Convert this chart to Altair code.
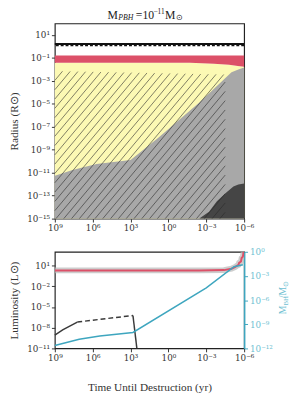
import altair as alt
import pandas as pd
import numpy as np

FONT = "Liberation Serif"
LFONT = "DejaVu Serif"
TEAL = "#3ea6bf"
TEAL_L = "#6fbfd2"
RED = "#dc5068"
YELLOW = "#fcf9b4"
GRAY = "#a8a8a8"
DARK = "#454545"

# ---------------- data (log10 values) ----------------
# top panel : radius structure vs time until destruction
t_gray = [9, 7.6, 5.7, 3.0, 0.8, -2.45, -5.0, -5.54, -6.0]
r_gray = [-11.27, -10.76, -10.24, -9.9, -7.95, -4.89, -2.25, -2.0, -1.83]

t_dark = [-2.45, -3.22, -3.84, -4.61, -5.15, -5.54, -6.0]
r_dark = [-15.0, -14.4, -13.48, -12.71, -12.2, -12.03, -11.95]

t_red = [9, -1.7, -3.6, -4.8, -5.5, -6.0]
r_red_top = [-0.78, -0.78, -0.78, -0.78, -0.78, -0.78]
r_red_bot = [-1.43, -1.43, -1.5, -1.6, -1.7, -1.78]

r_surface = 0.21      # solid black
r_surface2 = 0.08     # dashed black

# hatched region: x extent and top edge (log10)
hatch_t = [9, -4.5]
hatch_top = [-2.15, -2.45]

# bottom panel : luminosity & BH mass
t_lum = [9, -2.45, -4.4, -5.0, -5.3, -5.4, -5.55, -5.6, -5.75, -5.8, -5.9, -5.95, -6.0]
l_lum = [0.3, 0.3, 0.35, 0.55, 0.8, 0.95, 1.1, 1.4, 1.6, 2.1, 2.3, 2.9, 3.0]

t_bh = [9, 7.07, 5.44, 2.81, -3.0, -5.2, -5.9]
m_bh = [-11.64, -10.87, -10.46, -10.02, -4.48, -1.85, -1.6]

t_blk1 = [9, 8.38, 7.22]
l_blk1 = [-9.06, -8.31, -7.18]
t_blk2 = [7.22, 2.81]
l_blk2 = [-7.18, -6.23]
t_blk3 = [2.81, 2.5]
l_blk3 = [-6.23, -11.0]

x_exps = [9, 6, 3, 0, -3, -6]
r_exps = [1, -1, -3, -5, -7, -9, -11, -13, -15]
l_exps = [1, -2, -5, -8, -11]
m_exps = [0, -3, -6, -9, -12]

W, H1, H2 = 194, 200, 99

SUP = str.maketrans("-0123456789", "⁻⁰¹²³⁴⁵⁶⁷⁸⁹")


def lab(exps):
    parts = [f"round(log(datum.value)/LN10)=={e} ? '10{str(e).translate(SUP)}'" for e in exps]
    return " : ".join(parts) + " : ''"


def p10(a):
    return [10.0 ** v for v in a]


def xenc(field="t", title=None, **kw):
    return alt.X(f"{field}:Q",
                 scale=alt.Scale(type="log", domain=[1e-6, 1e9], reverse=True, nice=False),
                 axis=alt.Axis(values=p10(x_exps), labelExpr=lab(x_exps), title=title,
                               titlePadding=20, labelFlush=False),
                 **kw)


rscale = alt.Scale(type="log", domain=[1e-15, 1e2], nice=False)
raxis = alt.Axis(values=p10(r_exps), labelExpr=lab(r_exps), title="Radius (R⊙)", titlePadding=7)


def yr(field):
    return alt.Y(f"{field}:Q", scale=rscale, axis=raxis)


# ---- top panel layers
df_red = pd.DataFrame({"t": p10(t_red), "top": p10(r_red_top), "bot": p10(r_red_bot),
                       "floor": 1e-15})
df_gray = pd.DataFrame({"t": p10(t_gray), "r": p10(r_gray), "floor": 1e-15})
df_dark = pd.DataFrame({"t": p10(t_dark), "r": p10(r_dark), "floor": 1e-15})

yellow = alt.Chart(df_red).mark_area(color=YELLOW).encode(x=xenc(), y=yr("bot"), y2="floor")
gray = alt.Chart(df_gray).mark_area(color=GRAY).encode(x=xenc(), y=yr("r"), y2="floor")
dark = alt.Chart(df_dark).mark_area(color=DARK).encode(x=xenc(), y=yr("r"), y2="floor")
red = alt.Chart(df_red).mark_area(color=RED).encode(x=xenc(), y=yr("top"), y2="bot")

# hatch lines built in log space (u = -log t, v = log R)
kx, ky = W / 15.0, H1 / 17.0
s = np.tan(np.radians(50)) * kx / ky
du = 8.0 / kx
u0, u1 = -hatch_t[0], -hatch_t[1]
b = (hatch_top[1] - hatch_top[0]) / (u1 - u0)
a = hatch_top[0] - b * u0
rows = []
c = u0 - (a + b * u0 + 15) / s
while c < u1:
    if c >= u0:
        us, vs = c, -15.0
    else:
        us, vs = u0, -15.0 + s * (u0 - c)
    ue = (a + 15 + s * c) / (s - b)
    if ue > u1:
        ue = u1
        ve = -15.0 + s * (u1 - c)
    else:
        ve = a + b * ue
    if vs < a + b * us:
        rows.append({"t1": 10 ** -us, "t2": 10 ** -ue, "r1": 10 ** vs, "r2": 10 ** ve})
    c += du
df_hatch = pd.DataFrame(rows)
hatch = alt.Chart(df_hatch).mark_rule(color="#2a2a2a", strokeWidth=0.8, opacity=0.75).encode(
    x=xenc("t1"), x2="t2", y=yr("r1"), y2="r2")

df_surf = pd.DataFrame({"r": [10 ** r_surface], "r2": [10 ** r_surface2]})
surf = alt.Chart(df_surf).mark_rule(color="#111", strokeWidth=2.2).encode(y=yr("r"))
surf2 = alt.Chart(df_surf).mark_rule(color="#111", strokeWidth=1.4, strokeDash=[3, 2]).encode(y=yr("r2"))

title_parts = [
    ("M", 54, 0, 12, "normal"),
    ("PBH", 65, 3, 8, "italic"),
    ("=10", 83, 0, 12, "normal"),
    ("−11", 101, -2.5, 7.5, "normal"),
    ("M", 113, 0, 12, "normal"),
    ("⊙", 124, 3, 8, "normal"),
]
title_layers = [
    alt.Chart(pd.DataFrame({"s": [txt]})).mark_text(
        align="left", baseline="middle", font=FONT, fontSize=fs, fontStyle=st, color="#222", dy=dy
    ).encode(text="s:N", x=alt.value(xx), y=alt.value(-9))
    for txt, xx, dy, fs, st in title_parts
]

top = alt.layer(yellow, gray, dark, red, hatch, surf, surf2, *title_layers).properties(width=W, height=H1)

# ---- bottom panel
lscale = alt.Scale(type="log", domain=[1e-11, 1e3], nice=False)
laxis = alt.Axis(values=p10(l_exps), labelExpr=lab(l_exps), title="Luminosity (L⊙)", titlePadding=7)


def yl(field="l"):
    return alt.Y(f"{field}:Q", scale=lscale, axis=laxis)


XT = "Time Until Destruction (yr)"
df_lum = pd.DataFrame({"t": p10(t_lum), "l": p10(l_lum)})
halo = alt.Chart(df_lum).mark_line(color="#b8b8b8", strokeWidth=6, opacity=0.7, clip=True).encode(
    x=xenc(title=XT), y=yl())
redl = alt.Chart(df_lum).mark_line(color=RED, strokeWidth=2, clip=True).encode(x=xenc(title=XT), y=yl())
b1 = alt.Chart(pd.DataFrame({"t": p10(t_blk1), "l": p10(l_blk1)})).mark_line(
    color="#3a3a3a", strokeWidth=1.5).encode(x=xenc(title=XT), y=yl())
b2 = alt.Chart(pd.DataFrame({"t": p10(t_blk2), "l": p10(l_blk2)})).mark_line(
    color="#3a3a3a", strokeWidth=1.5, strokeDash=[5, 3]).encode(x=xenc(title=XT), y=yl())
b3 = alt.Chart(pd.DataFrame({"t": p10(t_blk3), "l": p10(l_blk3)})).mark_line(
    color="#3a3a3a", strokeWidth=1.5, clip=True).encode(x=xenc(title=XT), y=yl())
left = alt.layer(halo, redl, b1, b2, b3)

mscale = alt.Scale(type="log", domain=[1e-12, 1], nice=False)
maxis = alt.Axis(values=p10(m_exps), labelExpr=lab(m_exps), title=None, orient="right",
                 labelColor=TEAL_L, tickColor=TEAL, domain=True, domainColor=TEAL, domainWidth=1.6)
teal = alt.Chart(pd.DataFrame({"t": p10(t_bh), "m": p10(m_bh)})).mark_line(
    color=TEAL, strokeWidth=1.5).encode(x=xenc(title=XT), y=alt.Y("m:Q", scale=mscale, axis=maxis))

rt_parts = [
    ("M", 64, 0, 10),
    ("BH", 55, 3, 7),
    ("/M", 47.5, 0, 10),
    ("⊙", 36, 3, 7),
]
rt_layers = [
    alt.Chart(pd.DataFrame({"s": [txt]})).mark_text(
        align="left", baseline="middle", font=FONT, fontSize=fs, color=TEAL_L, angle=270
    ).encode(text="s:N", x=alt.value(234 + dx), y=alt.value(yy))
    for txt, yy, dx, fs in rt_parts
]

bottom = alt.layer(left, teal, *rt_layers).resolve_scale(y="independent").properties(width=W, height=H2)

chart = alt.vconcat(top, bottom, spacing=13).properties(
    padding={"top": -6, "left": 0, "right": 0, "bottom": 0}
).configure_axis(
    labelFont=LFONT, titleFont=FONT, labelFontSize=9, titleFontSize=11.5, titleFontWeight="normal",
    labelColor="#333", titleColor="#333", tickColor="#333", tickSize=3.5, grid=False, domain=False
).configure_view(stroke="#222", strokeWidth=1.2)

chart.save("out.html", embed_options={"renderer": "svg", "actions": False})
